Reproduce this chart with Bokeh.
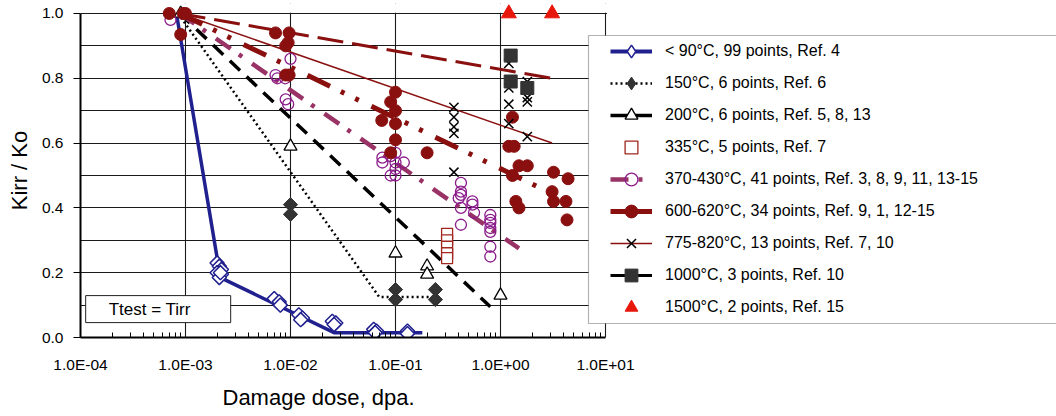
import math
from bokeh.plotting import figure
from bokeh.models import (FixedTicker, Legend, LegendItem, BoxAnnotation, Label, Range1d, Title)
from bokeh.embed import file_html
from bokeh.resources import INLINE

FONT = "Liberation Sans"

# ---------------- data ----------------
x_tick_values = [1e-4, 1e-3, 1e-2, 1e-1, 1e0, 1e1]
x_tick_labels = ["1.0E-04", "1.0E-03", "1.0E-02", "1.0E-01", "1.0E+00", "1.0E+01"]
x_minor_values = [m * d for d in [1e-4, 1e-3, 1e-2, 1e-1, 1e0] for m in range(2, 10)]
y_tick_values = [0.0, 0.2, 0.4, 0.6, 0.8, 1.0]
y_tick_labels = ["0.0", "0.2", "0.4", "0.6", "0.8", "1.0"]
y_grid_values = [0.1, 0.2, 0.3, 0.4, 0.5, 0.6, 0.7, 0.8, 0.9, 1.0]

labels = [
    "< 90°C, 99 points, Ref. 4",
    "150°C, 6 points, Ref. 6",
    "200°C, 6 points, Ref. 5, 8, 13",
    "335°C, 5 points, Ref. 7",
    "370-430°C, 41 points, Ref. 3, 8, 9, 11, 13-15",
    "600-620°C, 34 points, Ref. 9, 1, 12-15",
    "775-820°C, 13 points, Ref. 7, 10",
    "1000°C, 3 points, Ref. 10",
    "1500°C, 2 points, Ref. 15",
]

# < 90 C
t90_x = [2.0e-3, 2.1e-3, 2.2e-3, 2.0e-3, 2.2e-3, 2.1e-3, 2.15e-3,
         7.0e-3, 7.8e-3, 8.0e-3, 1.2e-2, 1.3e-2, 1.25e-2,
         2.5e-2, 2.7e-2, 2.6e-2, 6.2e-2, 6.6e-2, 6.4e-2, 0.13, 0.13]
t90_y = [0.23, 0.22, 0.21, 0.20, 0.195, 0.185, 0.20,
         0.12, 0.11, 0.10, 0.07, 0.06, 0.055,
         0.05, 0.045, 0.04, 0.025, 0.02, 0.015, 0.02, 0.012]
t90_fit_x = [8.2e-4, 2.15e-3, 2.6e-2, 0.18]
t90_fit_y = [1.0, 0.185, 0.015, 0.015]

# 150 C
t150_x = [1e-2, 1e-2, 0.1, 0.1, 0.24, 0.24]
t150_y = [0.41, 0.38, 0.148, 0.117, 0.148, 0.117]
t150_fit_x = [8.5e-4, 0.07, 0.24]
t150_fit_y = [1.0, 0.125, 0.125]

# 200 C
t200_x = [9e-4, 1e-2, 0.1, 0.2, 0.2, 1.0]
t200_y = [1.0, 0.59, 0.26, 0.22, 0.195, 0.13]
t200_fit_x = [8.8e-4, 0.8]
t200_fit_y = [1.0, 0.095]

# 335 C
t335_x = [0.31, 0.31, 0.31, 0.31, 0.31]
t335_y = [0.32, 0.30, 0.28, 0.26, 0.245]

# 370-430 C
t400_x = [7.2e-4,
          7.2e-3, 7.5e-3, 8.9e-3, 1.0e-2, 9.0e-3, 9.5e-3,
          0.075, 0.075, 0.09, 0.1, 0.1, 0.1, 0.1, 0.09, 0.12,
          0.42, 0.42, 0.42, 0.42, 0.42, 0.54, 0.54, 0.56, 0.40,
          0.8, 0.8, 0.8, 0.8, 0.8, 0.8, 0.8]
t400_y = [0.98,
          0.81, 0.80, 0.80, 0.86, 0.735, 0.72,
          0.555, 0.54, 0.56, 0.57, 0.54, 0.52, 0.50, 0.50, 0.54,
          0.477, 0.45, 0.44, 0.40, 0.348, 0.42, 0.41, 0.385, 0.43,
          0.378, 0.363, 0.354, 0.338, 0.326, 0.28, 0.25]
t400_fit_x = [8.8e-4, 1.5]
t400_fit_y = [1.0, 0.275]

# 600-620 C
t600_x = [7e-4, 9.5e-4, 1.0e-3, 9e-4,
          7.2e-3, 9.7e-3, 9.5e-3, 9e-3, 9.7e-3, 9e-3,
          0.1, 0.09, 0.1, 0.074, 0.1, 0.1, 0.09, 0.2,
          1.3, 1.2, 1.35, 1.5, 1.8, 1.3, 3.2, 4.4, 1.4, 1.5, 3.1, 3.2, 4.2, 4.3]
t600_y = [1.0, 1.0, 1.0, 0.935,
          0.94, 0.94, 0.91, 0.90, 0.81, 0.81,
          0.757, 0.727, 0.70, 0.67, 0.66, 0.61, 0.57, 0.57,
          0.68, 0.59, 0.59, 0.53, 0.53, 0.50, 0.51, 0.49, 0.42, 0.40, 0.45, 0.42, 0.42, 0.363]
t600_fit_x = [8.8e-4, 3.8]
t600_fit_y = [1.0, 0.43]

# 775-820 C
t800_x = [0.36, 0.36, 0.36, 0.36, 0.36, 1.2, 1.2, 1.2, 1.2, 1.8, 1.8, 1.8, 1.8]
t800_y = [0.71, 0.68, 0.65, 0.63, 0.51, 0.846, 0.77, 0.72, 0.66, 0.79, 0.74, 0.727, 0.62]
t800_fit_x = [8.8e-4, 3.1]
t800_fit_y = [1.0, 0.60]

# 1000 C
t1000_x = [1.25, 1.25, 1.8]
t1000_y = [0.87, 0.79, 0.77]
t1000_fit_x = [8.8e-4, 3.1]
t1000_fit_y = [1.0, 0.80]

# 1500 C
t1500_x = [1.2, 3.1]
t1500_y = [1.0, 1.0]

# ---------------- colours ----------------
NAVY = "#20208f"
DARKRED = "#8a0f0f"
MAUVE = "#993366"
PURPLE = "#8b1c8b"
GRAY = "#333333"
BRICK = "#a0261e"
RED = "#e8170c"

# frame spans x 80..1056 (105 px per decade), y 3..338 (325 px per unit)
XMAX = 10 ** (-4 + 976 / 105)
YMAX = 1.0 + 10 / 325

p = figure(width=1056, height=416, x_axis_type="log",
           x_range=Range1d(1e-4, XMAX), y_range=Range1d(0, YMAX),
           output_backend="svg", toolbar_location=None,
           min_border_left=80, min_border_right=0,
           min_border_top=3, min_border_bottom=78)
p.outline_line_color = None
p.background_fill_color = "white"
p.border_fill_color = "white"

# grids
p.xgrid.ticker = FixedTicker(ticks=x_tick_values)
p.ygrid.ticker = FixedTicker(ticks=y_grid_values)
for g in (p.xgrid, p.ygrid):
    g.grid_line_color = "#1a1a1a"
    g.grid_line_width = 1.1

# white covers: above the 1.0 line, and right of the 1e1 line
p.add_layout(BoxAnnotation(bottom=1.0025, fill_color="white", fill_alpha=1.0,
                           line_alpha=0, level="underlay"))
p.add_layout(BoxAnnotation(left=10 ** (1 + 1.5 / 105), bottom=0.0, fill_color="white",
                           fill_alpha=1.0, line_alpha=0, level="underlay"))

# axes
p.xaxis.ticker = FixedTicker(ticks=x_tick_values, minor_ticks=x_minor_values)
p.xaxis.major_label_overrides = dict(zip(x_tick_values, x_tick_labels))
p.xaxis.bounds = (1e-4, 1e1)
p.xaxis.major_tick_in = 0
p.xaxis.major_tick_out = 0
p.xaxis.minor_tick_in = 5
p.xaxis.minor_tick_out = 0
p.xaxis.major_label_standoff = 18

p.yaxis.ticker = FixedTicker(ticks=y_tick_values)
p.yaxis.major_label_overrides = dict(zip(y_tick_values, y_tick_labels))
p.yaxis.bounds = (0, 1)
p.yaxis.major_tick_in = 0
p.yaxis.major_tick_out = 7
p.yaxis.minor_tick_in = 0
p.yaxis.minor_tick_out = 0
p.yaxis.major_label_standoff = 10
p.yaxis.axis_label = "Kirr / Ko"
p.yaxis.axis_label_text_font = FONT
p.yaxis.axis_label_text_font_size = "22px"
p.yaxis.axis_label_text_font_style = "normal"
p.yaxis.axis_label_text_color = "black"
p.yaxis.axis_label_standoff = 7

for ax in (p.xaxis, p.yaxis):
    ax.axis_line_color = "black"
    ax.axis_line_width = 2
    ax.major_tick_line_color = "black"
    ax.minor_tick_line_color = "black"
    ax.major_label_text_font = FONT
    ax.major_label_text_font_size = "15.5px"
    ax.major_label_text_color = "black"

# x-axis title (left-aligned with offset to sit where the reference has it)
p.add_layout(Title(text="Damage dose, dpa.", align="left", offset=142, standoff=14,
                   text_font=FONT, text_font_size="22px", text_font_style="normal",
                   text_color="black"), "below")

# ---------------- fit lines ----------------
p.line(t90_fit_x, t90_fit_y, line_color=NAVY, line_width=3.5)
p.line(t150_fit_x, t150_fit_y, line_color="black", line_width=2.5, line_dash="2 3")
p.line(t200_fit_x, t200_fit_y, line_color="black", line_width=3.5, line_dash="14 9")
p.line(t400_fit_x, t400_fit_y, line_color=MAUVE, line_width=4.5, line_dash="18 10 4 12")
p.line(t600_fit_x, t600_fit_y, line_color=DARKRED, line_width=5, line_dash="25 12 4 12 4 14")
p.line(t800_fit_x, t800_fit_y, line_color=DARKRED, line_width=1.5)
p.line(t1000_fit_x, t1000_fit_y, line_color=DARKRED, line_width=3, line_dash="26 9")

# ---------------- points ----------------
ROT = math.pi / 4
s90 = p.scatter(t90_x, t90_y, marker="square", angle=ROT, size=10, fill_color="white",
                line_color=NAVY, line_width=1.5)
s150 = p.scatter(t150_x, t150_y, marker="square", angle=ROT, size=10, fill_color=GRAY,
                 line_color=GRAY, line_width=1)
s200 = p.scatter(t200_x, t200_y, marker="triangle", size=13, fill_color="white",
                 line_color="black", line_width=1.3)
s335 = p.scatter(t335_x, t335_y, marker="square", size=11, fill_color="white",
                 line_color=BRICK, line_width=1.3)
s400 = p.scatter(t400_x, t400_y, marker="circle", size=11, fill_color=None,
                 line_color=PURPLE, line_width=1.3)
s600 = p.scatter(t600_x, t600_y, marker="circle", size=12, fill_color=DARKRED,
                 line_color=DARKRED, line_width=1)
s800 = p.scatter(t800_x, t800_y, marker="x", size=13, line_color="black", line_width=1.5)
s1000 = p.scatter(t1000_x, t1000_y, marker="square", size=13, fill_color=GRAY,
                  line_color=GRAY, line_width=1)
s1500 = p.scatter(t1500_x, t1500_y, marker="triangle", size=15, fill_color=RED,
                  line_color=RED, line_width=1)

# legend-only samples
nan = [float("nan")]
l90 = p.line(nan, nan, line_color=NAVY, line_width=4)
m90 = p.scatter(nan, nan, marker="diamond", size=12, fill_color="white",
                line_color=NAVY, line_width=1.5)
l150 = p.line(nan, nan, line_color="black", line_width=2.5, line_dash="2 3")
m150 = p.scatter(nan, nan, marker="diamond", size=12, fill_color=GRAY,
                 line_color=GRAY, line_width=1)
l200 = p.line(nan, nan, line_color="black", line_width=3.5, line_dash="18 6")
l400 = p.line(nan, nan, line_color=MAUVE, line_width=4.5, line_dash="18 10 4 12")
l600 = p.line(nan, nan, line_color=DARKRED, line_width=5)
l800 = p.line(nan, nan, line_color=DARKRED, line_width=1.5)
l1000 = p.line(nan, nan, line_color="black", line_width=3, line_dash="15 12")

items = [
    LegendItem(label=labels[0], renderers=[l90, m90]),
    LegendItem(label=labels[1], renderers=[l150, m150]),
    LegendItem(label=labels[2], renderers=[l200, s200]),
    LegendItem(label=labels[3], renderers=[s335]),
    LegendItem(label=labels[4], renderers=[l400, s400]),
    LegendItem(label=labels[5], renderers=[l600, s600]),
    LegendItem(label=labels[6], renderers=[l800, s800]),
    LegendItem(label=labels[7], renderers=[l1000, s1000]),
    LegendItem(label=labels[8], renderers=[s1500]),
]

# legend frame box
p.add_layout(BoxAnnotation(left=508, right=1000, bottom=14, top=302,
                           left_units="screen", right_units="screen",
                           bottom_units="screen", top_units="screen",
                           fill_color="white", fill_alpha=1.0,
                           line_color="black", line_width=1.2))

legend = Legend(items=items, location=(530, 14), orientation="vertical",
                glyph_width=42, glyph_height=32, label_height=32, spacing=0,
                padding=0, margin=0, label_standoff=13,
                label_text_font=FONT, label_text_font_size="16px",
                label_text_color="black",
                border_line_alpha=0, background_fill_alpha=0)
p.add_layout(legend)

# annotation box
p.add_layout(Label(x=1.12e-4, y=0.046, text="Ttest = Tirr", text_align="left",
                   text_baseline="bottom", text_font=FONT, text_font_size="17px",
                   text_color="black", border_line_color="#222222", border_line_width=1,
                   background_fill_color="white",
                   padding=dict(left=23, right=40, top=4, bottom=4)))

open("out.html", "w").write(file_html(p, INLINE))
